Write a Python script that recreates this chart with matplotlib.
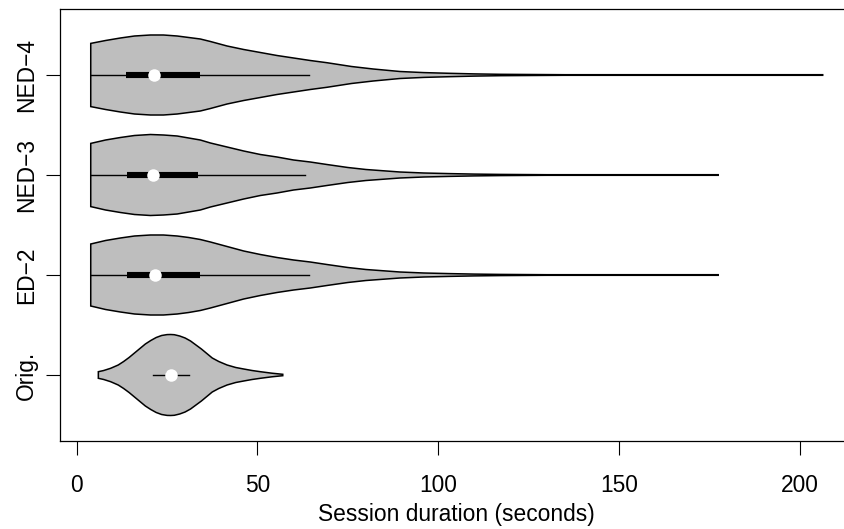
import numpy as np
import matplotlib
matplotlib.use("Agg")
import matplotlib.pyplot as plt

plt.rcParams['font.family'] = ['Liberation Sans', 'DejaVu Sans']

# group names (bottom to top)
groups = ["Orig.", "ED\u22122", "NED\u22123", "NED\u22124"]

# violin outlines: session duration (s) and half width
orig_x = [6.0, 7.5, 9.4, 11.5, 13.0, 14.5, 16.0, 17.5, 19.0, 20.5, 22.0, 23.5, 25.0, 26.0, 27.0, 28.5, 30.0, 31.5, 33.0, 34.5, 36.0, 37.5, 39.3, 41.6, 44.0, 46.2, 48.5, 50.8, 54.0, 57.0]
orig_w = [0.033, 0.045, 0.067, 0.10, 0.135, 0.175, 0.22, 0.265, 0.31, 0.345, 0.375, 0.395, 0.404, 0.405, 0.403, 0.39, 0.37, 0.34, 0.30, 0.26, 0.215, 0.17, 0.135, 0.10, 0.075, 0.06, 0.045, 0.033, 0.018, 0.007]

ed2_x = [3.9, 8.0, 12.1, 16.0, 20.4, 24.0, 27.8, 31.0, 34.2, 37.0, 41.6, 46.2, 50.8, 55.4, 60.0, 64.6, 69.2, 75.0, 80.0, 89.4, 96.0, 103.0, 110.0, 117.0, 130.0, 177.4]
ed2_w = [0.31, 0.345, 0.37, 0.39, 0.40, 0.40, 0.39, 0.375, 0.355, 0.33, 0.285, 0.24, 0.205, 0.175, 0.15, 0.13, 0.105, 0.075, 0.055, 0.03, 0.02, 0.014, 0.009, 0.006, 0.003, 0.003]

ned3_x = [3.9, 8.0, 12.1, 16.0, 20.4, 24.0, 27.8, 31.0, 34.2, 37.0, 41.6, 46.2, 50.8, 55.4, 60.0, 64.6, 69.2, 75.0, 80.0, 89.4, 96.0, 103.0, 110.0, 117.0, 130.0, 177.4]
ned3_w = [0.316, 0.35, 0.375, 0.395, 0.405, 0.40, 0.39, 0.37, 0.35, 0.32, 0.28, 0.24, 0.205, 0.18, 0.15, 0.13, 0.105, 0.075, 0.055, 0.03, 0.02, 0.014, 0.009, 0.006, 0.003, 0.003]

ned4_x = [3.9, 8.0, 12.1, 16.0, 20.4, 24.0, 27.8, 31.0, 34.2, 37.0, 41.6, 46.2, 50.8, 55.4, 60.0, 64.6, 69.2, 76.0, 82.0, 89.4, 96.0, 103.0, 110.0, 117.0, 135.0, 206.3]
ned4_w = [0.316, 0.345, 0.37, 0.39, 0.40, 0.40, 0.39, 0.375, 0.36, 0.335, 0.29, 0.255, 0.225, 0.195, 0.17, 0.145, 0.123, 0.085, 0.06, 0.035, 0.024, 0.017, 0.011, 0.007, 0.003, 0.003]

# box plot summaries: whisker low, q1, median, q3, whisker high
whisk_lo = [21.1, 3.9, 3.9, 3.9]
q1 = [24.6, 14.0, 13.8, 13.7]
medians = [26.0, 21.6, 21.2, 21.3]
q3 = [27.6, 34.2, 33.6, 34.0]
whisk_hi = [31.2, 64.3, 63.2, 64.3]

outlines = [(orig_x, orig_w), (ed2_x, ed2_w), (ned3_x, ned3_w), (ned4_x, ned4_w)]

fig = plt.figure(figsize=(8.45, 5.29), dpi=100)
ax = fig.add_axes([60 / 845, 88 / 529, 792 / 845, 432 / 529])

for i, (xs, ws) in enumerate(outlines):
    pos = i + 1
    xs = np.array(xs)
    ws = np.array(ws)
    px = np.concatenate([xs, xs[::-1]])
    py = np.concatenate([pos - ws, (pos + ws)[::-1]])
    ax.fill(px, py, facecolor="#bebebe", edgecolor="black", linewidth=1.1, zorder=2)
    ax.plot([whisk_lo[i], whisk_hi[i]], [pos, pos], color="black", linewidth=1.0, zorder=3)
    ax.plot([q1[i], q3[i]], [pos, pos], color="black", linewidth=4.4,
            solid_capstyle="butt", zorder=4)
    ax.plot(medians[i], pos, "o", color="white", markersize=9, markeredgewidth=0, zorder=5)

ax.set_xlim(-4.6, 214.4)
ax.set_ylim(0.34, 4.66)
ax.set_xticks([0, 50, 100, 150, 200])
ax.set_yticks([1, 2, 3, 4])
ax.set_yticklabels(groups, rotation=90, va="center")
ax.tick_params(axis="both", direction="out", length=10, width=0.8, labelsize=16.4, colors="black")
ax.tick_params(axis="x", pad=13.7)
ax.tick_params(axis="y", pad=5.8)
ax.set_xlabel("Session duration (seconds)", fontsize=16.4, labelpad=4.5)
ax.spines["right"].set_visible(False)
for s in ax.spines.values():
    s.set_linewidth(0.9)

fig.savefig("out.png", dpi=100)
